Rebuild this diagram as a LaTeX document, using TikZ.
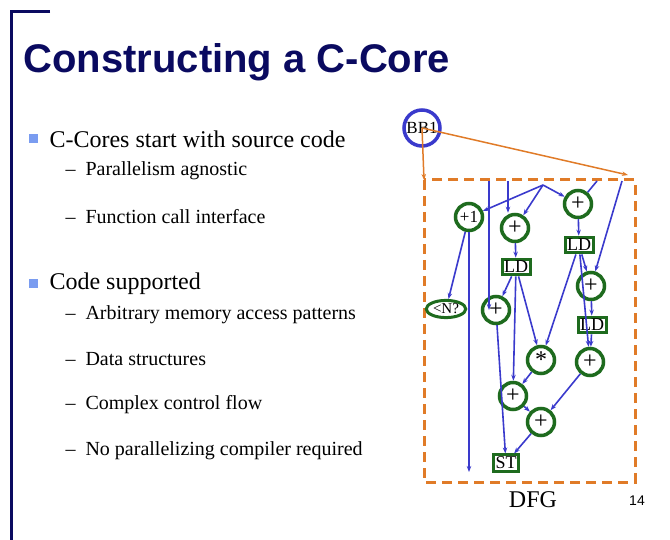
\documentclass[tikz,border=0pt]{standalone}
\usepackage{fontspec}
\setmainfont{Liberation Serif}
\setsansfont{Liberation Sans}
\usetikzlibrary{positioning,shapes.geometric,arrows.meta}
\definecolor{navy}{HTML}{0A0A60}
\definecolor{flow}{HTML}{3A3ACC}
\definecolor{opgreen}{HTML}{1E6B1E}
\definecolor{bborange}{HTML}{E07B28}
\definecolor{bullet}{HTML}{7A9CF0}
\tikzset{%
  op/.style={circle,draw=opgreen,line width=3.5pt,fill=white,inner sep=0pt,minimum size=27pt,font=\fontsize{24}{24}\selectfont},
  mem/.style={rectangle,draw=opgreen,line width=3pt,fill=white,inner sep=2pt,font=\fontsize{18}{18}\selectfont},
  edge/.style={draw=flow,line width=1.6pt},
  bul/.style={anchor=west,font=\fontsize{24}{24}\selectfont},
  sub/.style={anchor=west,font=\fontsize{20}{20}\selectfont},
}
\begin{document}
\begin{tikzpicture}[x=1pt,y=-1pt,>={Stealth[length=6pt]}]
        \useasboundingbox (0,0) rectangle (670,540);
        \draw[navy,line width=3pt] (50,12) -- (11,12) -- (11,540);
        \node[anchor=west,navy,font=\sffamily\bfseries\fontsize{40}{40}\selectfont] (title) at (20,62) {Constructing a C-Core};

        % bullets
        \fill[bullet] (29,134) rectangle (38,143);
        \node[bul] (b1) at (46,139) {C-Cores start with source code};
        \node[sub] (s1) at (62,171) {–\ \ Parallelism agnostic};
        \node[sub] (s2) at (62,217) {–\ \ Function call interface};
        \fill[bullet] (29,279) rectangle (38,288);
        \node[bul] (b2) at (46,284) {Code supported};
        \node[sub] (s3) at (62,315) {–\ \ Arbitrary memory access patterns};
        \node[sub] (s4) at (62,359) {–\ \ Data structures};
        \node[sub] (s5) at (62,405) {–\ \ Complex control flow};
        \node[sub] (s6) at (62,451) {–\ \ No parallelizing compiler required};

        % basic block
        \node[circle,draw=flow,line width=3.5pt,minimum size=36pt,inner sep=0pt,font=\fontsize{17}{17}\selectfont] (bb) at (422,128) {BB1};
        \draw[bborange,line width=3pt,dash pattern=on 10pt off 6pt] (424,180) rectangle (635,482);
        \coordinate (corner) at (424,180);
        \coordinate (entry) at (628,175);
        \draw[->,bborange,line width=1.5pt] (bb.center) -- (corner);
        \draw[->,bborange,line width=1.5pt] (bb.center) -- (entry);

        % dataflow nodes
        \node[op,font=\fontsize{17}{17}\selectfont] (inc) at (469,217) {+1};
        \node[op] (addA) at (515,228) {+};
        \node[mem] (ldA) at (516,267) {LD};
        \node[op] (addB) at (578,204) {+};
        \node[mem] (ldB) at (579,245) {LD};
        \node[op] (addC) at (591,286) {+};
        \node[mem] (ldC) at (592,325) {LD};
        \node[ellipse,draw=opgreen,line width=3pt,fill=white,inner sep=1pt,font=\fontsize{15}{15}\selectfont] (cmp) at (446,309) {<N?};
        \node[op] (addD) at (496,310) {+};
        \node[op] (mul) at (541,360) {*};
        \node[op] (addE) at (590,362) {+};
        \node[op] (addF) at (513,396) {+};
        \node[op] (addG) at (541,422) {+};
        \node[mem] (st) at (506,463) {ST};
        \node[font=\fontsize{24}{24}\selectfont] (dfg) at (533,500) {DFG};
        \node[font=\sffamily\fontsize{14}{14}\selectfont] (page) at (637,501) {14};

        % inputs
        \coordinate (fan) at (543,185);
        \coordinate (inA) at (508,181);
        \coordinate (inD) at (489,181);
        \coordinate (inB) at (597,181);
        \coordinate (inC) at (622,181);
        \coordinate (out) at (469,472);
        \draw[edge,->] (fan) -- (inc);
        \draw[edge,->] (fan) -- (addA);
        \draw[edge,->] (fan) -- (addB);
        \draw[edge,->] (inA) -- (inA |- addA.north);
        \draw[edge,->] (inD) -- (inD |- addD.west);
        \draw[edge] (inB) -- (addB);
        \draw[edge,->] (inC) -- (addC);

        % edges
        \draw[edge,->] (inc) -- (out);
        \draw[edge,->] (inc) -- (cmp);
        \draw[edge,->] (addA) -- (ldA);
        \draw[edge,->] (addB) -- (ldB);
        \draw[edge,->] (ldB) -- (addC);
        \draw[edge,->] (addC) -- (ldC);
        \draw[edge,->] (ldC) -- (addE);
        \draw[edge,->] (ldA) -- (addD);
        \draw[edge,->] (ldA) -- (mul);
        \draw[edge,->] (ldA) -- (addF);
        \draw[edge,->] (ldB) -- (mul);
        \draw[edge,->] (ldB) -- (addE);
        \draw[edge,->] (mul) -- (addF);
        \draw[edge,->] (addF) -- (addG);
        \draw[edge,->] (addE) -- (addG);
        \draw[edge,->] (addG) -- (st);
        \draw[edge,->] (addD) -- (st);
\end{tikzpicture}
\end{document}
